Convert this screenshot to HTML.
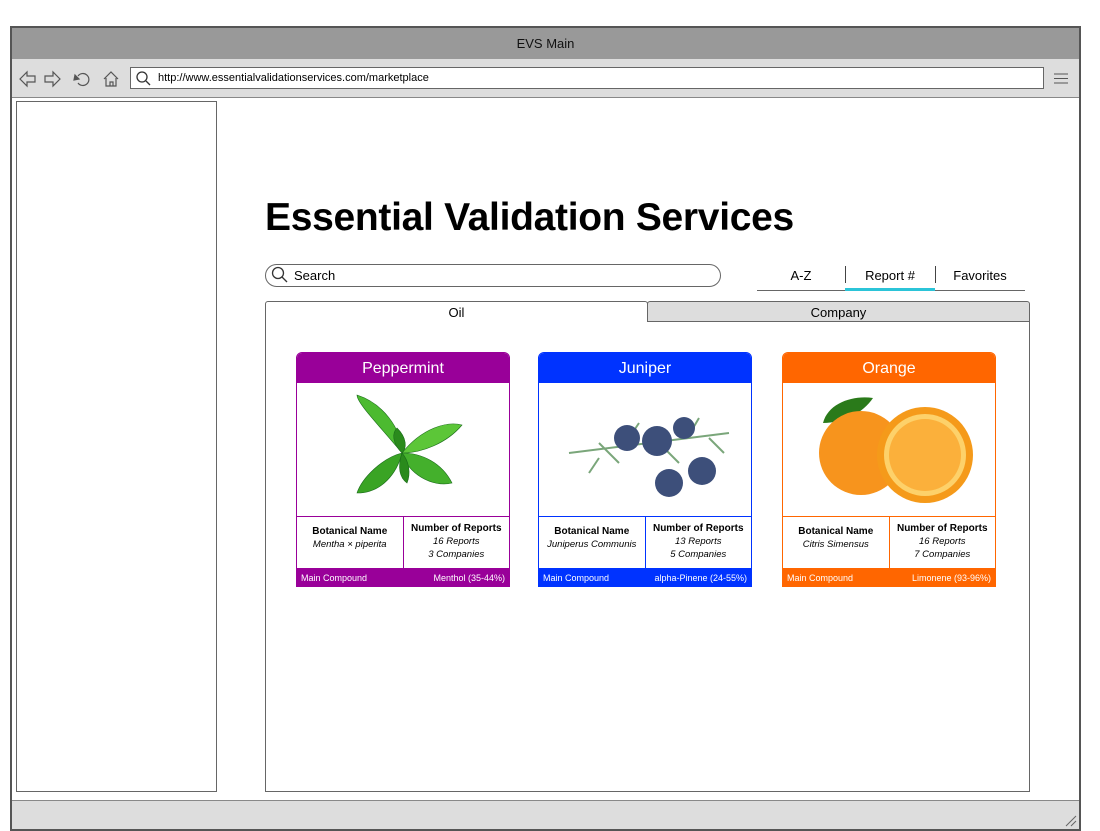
<!DOCTYPE html>
<html><head><meta charset="utf-8"><style>
*{box-sizing:border-box;margin:0;padding:0}
body{width:1100px;height:831px;background:#fff;font-family:"Liberation Sans",sans-serif;position:relative;overflow:hidden}
.a{position:absolute}
.card{position:absolute;top:352px;width:214px;height:235px;border:1px solid;border-radius:6px 6px 0 0;overflow:hidden;background:#fff}
.card .h{height:30px;color:#fff;font-size:16px;text-align:center;line-height:31px}
.card .img{height:133px;position:relative}
.card .info{height:52px;display:flex;border-top:1px solid}
.card .info div{flex:1;text-align:center;font-size:9.5px;line-height:13px}
.card .info div:first-child{border-right:1px solid;padding-top:8px}
.card .info div:last-child{padding-top:5px}
.card b{font-size:10px}
.card .f{height:19px;color:#fff;font-size:9px;display:flex;justify-content:space-between;padding:0 4px;line-height:20px}
</style></head><body>
<div class="a" style="left:10px;top:26px;width:1071px;height:805px;border:2px solid #555;background:#fff"></div>
<div class="a" style="left:12px;top:28px;width:1067px;height:31px;background:#999;text-align:center;line-height:31px;font-size:13px;color:#111">EVS Main</div>
<div class="a" style="left:12px;top:59px;width:1067px;height:39px;background:#ddd;border-bottom:1px solid #888"></div>
<svg class="a" style="left:16px;top:66px" width="110" height="26" fill="none" stroke="#555" stroke-width="1.2">
<path d="M4 13 L11 6 V10 H19 V16 H11 V20 Z"/><path d="M44 13 L37 6 V10 H29 V16 H37 V20 Z"/>
<path d="M62 10 A6 6 0 1 1 62 17"/><path d="M59 9 L63 13 L58 14 Z" fill="#555"/>
<path d="M88 13 L95 6 L102 13 M90 12 V20 H100 V12 M94 20 V16 H97 V20"/></svg>
<div class="a" style="left:130px;top:67px;width:914px;height:22px;background:#fff;border:1px solid #666;font-size:11px;line-height:21px;padding-left:27px">http://www.essentialvalidationservices.com/marketplace</div>
<svg class="a" style="left:135px;top:70px" width="18" height="16" fill="none" stroke="#333" stroke-width="1.3"><circle cx="7" cy="7" r="5"/><path d="M11 11 L15 15"/></svg>
<svg class="a" style="left:1053px;top:71px" width="16" height="14" stroke="#555"><path d="M1 3H15M1 7.5H15M1 12H15"/></svg>
<div class="a" style="left:12px;top:800px;width:1067px;height:29px;background:#ddd;border-top:1px solid #888"></div>
<svg class="a" style="left:1064px;top:814px" width="14" height="14" stroke="#666"><path d="M2 12L12 2M7 12L12 7"/></svg>
<div class="a" style="left:16px;top:101px;width:201px;height:691px;border:1px solid #666"></div>
<div class="a" style="left:265px;top:196px;font-size:39px;font-weight:bold;letter-spacing:-0.3px">Essential Validation Services</div>
<div class="a" style="left:265px;top:264px;width:456px;height:23px;border:1px solid #666;border-radius:12px;font-size:13px;line-height:22px;padding-left:28px">Search</div>
<svg class="a" style="left:271px;top:266px" width="18" height="18" fill="none" stroke="#333" stroke-width="1.3"><circle cx="7" cy="7" r="5.5"/><path d="M11 11 L16 16"/></svg>
<div class="a" style="left:757px;top:268px;width:88px;text-align:center;font-size:13px">A-Z</div>
<div class="a" style="left:845px;top:268px;width:90px;text-align:center;font-size:13px">Report #</div>
<div class="a" style="left:935px;top:268px;width:90px;text-align:center;font-size:13px">Favorites</div>
<div class="a" style="left:845px;top:266px;width:1px;height:17px;background:#444"></div>
<div class="a" style="left:935px;top:266px;width:1px;height:17px;background:#444"></div>
<div class="a" style="left:757px;top:290px;width:268px;height:1px;background:#666"></div>
<div class="a" style="left:845px;top:288px;width:90px;height:3px;background:#2bc4d8"></div>
<div class="a" style="left:265px;top:321px;width:765px;height:471px;border:1px solid #666"></div>
<div class="a" style="left:265px;top:301px;width:383px;height:21px;border:1px solid #666;border-bottom:none;border-radius:3px 3px 0 0;background:#fff;text-align:center;font-size:13px;line-height:21px">Oil</div>
<div class="a" style="left:647px;top:301px;width:383px;height:21px;border:1px solid #666;border-radius:3px 3px 0 0;background:#ddd;text-align:center;font-size:13px;line-height:22px">Company</div>

<div class="card" style="left:296px;border-color:#909"><div class="h" style="background:#909">Peppermint</div>
<div class="img"><svg width="212" height="133"><g fill="#3a3" stroke="#1a6b1a" stroke-width="0.6">
<path d="M105 70 C80 40 60 20 60 12 C85 20 105 45 105 70Z" fill="#4cba30"/>
<path d="M105 70 C125 45 150 38 165 42 C150 60 125 70 105 70Z" fill="#5cc638"/>
<path d="M105 70 C85 75 65 95 60 110 C85 110 100 90 105 70Z" fill="#3aa424"/>
<path d="M105 70 C110 90 135 105 155 100 C145 80 125 70 105 70Z" fill="#44b02c"/>
<path d="M105 70 C95 60 95 50 100 45 C110 55 110 65 105 70Z" fill="#2a8a1c"/>
<path d="M105 70 C100 85 103 95 110 100 C114 90 112 78 105 70Z" fill="#2a8a1c"/></g></svg></div>
<div class="info" style="border-color:#909"><div style="border-color:#909"><b>Botanical Name</b><br><i>Mentha × piperita</i></div><div><b>Number of Reports</b><br><i>16 Reports<br>3 Companies</i></div></div>
<div class="f" style="background:#909"><span>Main Compound</span><span>Menthol (35-44%)</span></div></div>

<div class="card" style="left:538px;border-color:#0033ff"><div class="h" style="background:#0033ff">Juniper</div>
<div class="img"><svg width="212" height="133"><g stroke="#7aa67a" stroke-width="2">
<path d="M30 70 L190 50 M60 60 L80 80 M90 55 L100 40 M120 60 L140 80 M150 52 L160 35 M60 75 L50 90 M170 55 L185 70"/></g>
<g fill="#3d4f7a"><circle cx="88" cy="55" r="13"/><circle cx="118" cy="58" r="15"/><circle cx="130" cy="100" r="14"/><circle cx="163" cy="88" r="14"/><circle cx="145" cy="45" r="11"/></g></svg></div>
<div class="info" style="border-color:#0033ff"><div style="border-color:#0033ff"><b>Botanical Name</b><br><i>Juniperus Communis</i></div><div><b>Number of Reports</b><br><i>13 Reports<br>5 Companies</i></div></div>
<div class="f" style="background:#0033ff"><span>Main Compound</span><span>alpha-Pinene (24-55%)</span></div></div>

<div class="card" style="left:782px;border-color:#f60"><div class="h" style="background:#ff6600">Orange</div>
<div class="img"><svg width="212" height="133"><path d="M40 40 C45 20 70 12 90 15 C80 30 60 40 40 40Z" fill="#2a7a1a"/>
<circle cx="78" cy="70" r="42" fill="#f7941d"/><circle cx="142" cy="72" r="48" fill="#f59a1a"/><circle cx="142" cy="72" r="41" fill="#fdd16a"/><circle cx="142" cy="72" r="36" fill="#fbb03b"/></svg></div>
<div class="info" style="border-color:#f60"><div style="border-color:#f60"><b>Botanical Name</b><br><i>Citris Simensus</i></div><div><b>Number of Reports</b><br><i>16 Reports<br>7 Companies</i></div></div>
<div class="f" style="background:#ff6600"><span>Main Compound</span><span>Limonene (93-96%)</span></div></div>
</body></html>
